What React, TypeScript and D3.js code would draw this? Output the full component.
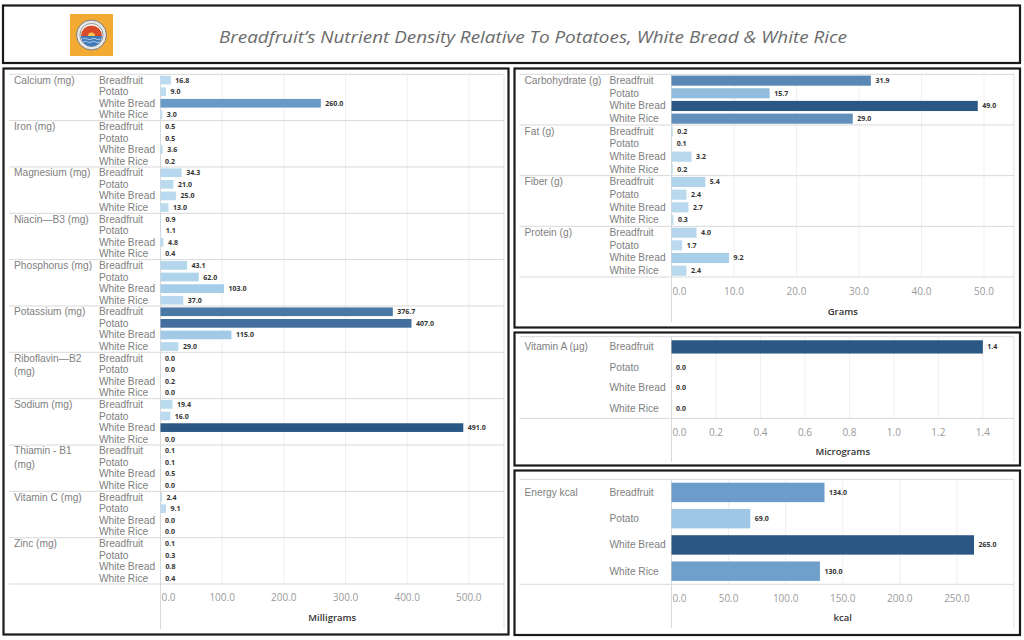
import * as d3 from "d3";

// categories
const foods = ["Breadfruit", "Potato", "White Bread", "White Rice"];

// milligram panel
const mgNutrients = [
  "Calcium (mg)",
  "Iron (mg)",
  "Magnesium (mg)",
  "Niacin—B3 (mg)",
  "Phosphorus (mg)",
  "Potassium (mg)",
  "Riboflavin—B2 (mg)",
  "Sodium (mg)",
  "Thiamin - B1 (mg)",
  "Vitamin C (mg)",
  "Zinc (mg)",
];
const calcium = [16.8, 9.0, 260.0, 3.0];
const iron = [0.5, 0.5, 3.6, 0.2];
const magnesium = [34.3, 21.0, 25.0, 13.0];
const niacin = [0.9, 1.1, 4.8, 0.4];
const phosphorus = [43.1, 62.0, 103.0, 37.0];
const potassium = [376.7, 407.0, 115.0, 29.0];
const riboflavin = [0.0, 0.0, 0.2, 0.0];
const sodium = [19.4, 16.0, 491.0, 0.0];
const thiamin = [0.1, 0.1, 0.5, 0.0];
const vitaminC = [2.4, 9.1, 0.0, 0.0];
const zinc = [0.1, 0.3, 0.8, 0.4];
const mgTicks = [0, 100, 200, 300, 400, 500];

// gram panel
const gNutrients = ["Carbohydrate (g)", "Fat (g)", "Fiber (g)", "Protein (g)"];
const carbohydrate = [31.9, 15.7, 49.0, 29.0];
const fat = [0.2, 0.1, 3.2, 0.2];
const fiber = [5.4, 2.4, 2.7, 0.3];
const protein = [4.0, 1.7, 9.2, 2.4];
const gTicks = [0, 10, 20, 30, 40, 50];

// microgram panel
const ugNutrients = ["Vitamin A (µg)"];
const vitaminA = [1.4, 0.0, 0.0, 0.0];
const ugTicks = [0, 0.2, 0.4, 0.6, 0.8, 1.0, 1.2, 1.4];

// energy panel
const kcalNutrients = ["Energy kcal"];
const energy = [134.0, 69.0, 265.0, 130.0];
const kcalTicks = [0, 50, 100, 150, 200, 250];

const FONT = "'Open Sans', sans-serif";
const LABEL_FONT = "'Liberation Sans', Arial, sans-serif";

type Group = { label: string; values: number[] };

type PanelProps = {
  box: { x: number; y: number; w: number; h: number };
  left: number;
  top: number;
  zeroX: number;
  right: number;
  rowsBottom: number;
  tickY: number;
  titleY: number;
  axisBottom: number;
  domainMax: number;
  ticks: number[];
  axisTitle: string;
  groups: Group[];
  pad: number;
};

const color = d3
  .scaleLinear<string>()
  .domain([0, 0.25, 0.5, 1])
  .range(["#bfddf0", "#a0c9e6", "#6d9dca", "#2b5785"])
  .interpolate(d3.interpolateRgb);

function wrapLabel(s: string) {
  if (s.length <= 16) return [s];
  const i = s.lastIndexOf(" ");
  return [s.slice(0, i), s.slice(i + 1)];
}

function Panel(p: PanelProps) {
  const x = d3.scaleLinear().domain([0, p.domainMax]).range([p.zeroX, p.right]);
  const gy = d3
    .scaleBand()
    .domain(p.groups.map((g) => g.label))
    .range([p.top, p.rowsBottom]);
  const ry = d3
    .scaleBand()
    .domain(foods)
    .range([0, gy.bandwidth()])
    .paddingInner(p.pad)
    .paddingOuter(p.pad / 2);
  const maxVal = d3.max(p.groups.flatMap((g) => g.values)) || 1;

  return (
    <g>
      <rect
        x={p.box.x}
        y={p.box.y}
        width={p.box.w}
        height={p.box.h}
        fill="#fff"
        stroke="#1a1a1a"
        strokeWidth={2.2}
      />
      {/* grid */}
      {p.ticks.slice(1).map((t) => (
        <line
          key={"g" + t}
          x1={x(t)}
          x2={x(t)}
          y1={p.top}
          y2={p.rowsBottom}
          stroke="#efefef"
        />
      ))}
      <line x1={p.zeroX} x2={p.zeroX} y1={p.top} y2={p.axisBottom} stroke="#d9d9d9" />
      <line x1={p.right} x2={p.right} y1={p.top} y2={p.axisBottom} stroke="#e3e3e3" />
      {p.groups.map((g) => (
        <line
          key={"s" + g.label}
          x1={p.left}
          x2={p.right}
          y1={gy(g.label)!}
          y2={gy(g.label)!}
          stroke="#d9d9d9"
        />
      ))}
      <line x1={p.left} x2={p.right} y1={p.rowsBottom} y2={p.rowsBottom} stroke="#d9d9d9" />

      {p.groups.map((g) => {
        const g0 = gy(g.label)!;
        const cy0 = g0 + ry(foods[0])! + ry.bandwidth() / 2;
        return (
          <g key={g.label}>
            {wrapLabel(g.label).map((line, i) => (
              <text
                key={i}
                x={p.left + 5}
                y={cy0 + i * 13.5}
                dominantBaseline="central"
                fontFamily={LABEL_FONT}
                fontSize={10.2}
                fill="#808080"
              >
                {line}
              </text>
            ))}
            {foods.map((f, i) => {
              const v = g.values[i];
              const cy = g0 + ry(f)! + ry.bandwidth() / 2;
              return (
                <g key={f}>
                  <text
                    x={p.left + 90}
                    y={cy}
                    dominantBaseline="central"
                    fontFamily={LABEL_FONT}
                    fontSize={10.2}
                    fill="#808080"
                  >
                    {f}
                  </text>
                  <rect
                    x={x(0)}
                    y={g0 + ry(f)!}
                    width={Math.max(0, x(v) - x(0))}
                    height={ry.bandwidth()}
                    fill={color(v / maxVal)}
                  />
                  <text
                    x={x(v) + 4.5}
                    y={cy}
                    dominantBaseline="central"
                    fontSize={7}
                    fontWeight={700}
                    fill="#333"
                  >
                    {v.toFixed(1)}
                  </text>
                </g>
              );
            })}
          </g>
        );
      })}

      {/* axis */}
      {p.ticks.map((t, i) => (
        <text
          key={"t" + t}
          x={i === 0 ? x(t) + 1 : x(t)}
          y={p.tickY}
          textAnchor={i === 0 ? "start" : "middle"}
          dominantBaseline="central"
          fontSize={10}
          fill="#9a9a9a"
        >
          {t.toFixed(1)}
        </text>
      ))}
      <text
        x={(p.zeroX + p.right) / 2}
        y={p.titleY}
        textAnchor="middle"
        dominantBaseline="central"
        fontSize={9.5}
        fontWeight={600}
        fill="#333"
      >
        {p.axisTitle}
      </text>
    </g>
  );
}

function Logo() {
  const cx = 91.5;
  const cy = 35;
  const top = d3.arc()({ innerRadius: 0, outerRadius: 10.5, startAngle: -Math.PI / 2, endAngle: Math.PI / 2 })!;
  const bottom = d3.arc()({ innerRadius: 0, outerRadius: 10.5, startAngle: Math.PI / 2, endAngle: (3 * Math.PI) / 2 })!;
  const sun = d3.arc()({ innerRadius: 0, outerRadius: 3.5, startAngle: -Math.PI / 2, endAngle: Math.PI / 2 })!;
  return (
    <g>
      <rect x={70} y={14} width={43} height={42} fill="#f3aa32" />
      <circle cx={cx} cy={cy} r={15} fill="#e6e6e6" stroke="#7a7a7a" strokeWidth={1} />
      <circle cx={cx} cy={cy} r={11.5} fill="#fff" stroke="#7a7a7a" strokeWidth={0.8} />
      <g transform={`translate(${cx},${cy + 1})`}>
        <path d={top} fill="#d84a2a" />
        <path d={bottom} fill="#3f79b8" />
        <path d={sun} fill="#f7c64a" />
        <path d="M-9,3 q2.2,-1.5 4.5,0 t4.5,0 t4.5,0 t4.5,0" fill="none" stroke="#cfe3f5" strokeWidth={0.8} />
        <path d="M-8,6 q2,-1.5 4,0 t4,0 t4,0 t4,0" fill="none" stroke="#cfe3f5" strokeWidth={0.8} />
      </g>
    </g>
  );
}

export default function App() {
  const mgGroups: Group[] = [
    calcium, iron, magnesium, niacin, phosphorus, potassium,
    riboflavin, sodium, thiamin, vitaminC, zinc,
  ].map((values, i) => ({ label: mgNutrients[i], values }));
  const gGroups: Group[] = [carbohydrate, fat, fiber, protein].map((values, i) => ({
    label: gNutrients[i],
    values,
  }));
  const ugGroups: Group[] = [{ label: ugNutrients[0], values: vitaminA }];
  const kcalGroups: Group[] = [{ label: kcalNutrients[0], values: energy }];

  return (
    <div style={{ position: "absolute", left: 0, top: 0 }}>
      <svg width={1024} height={640} fontFamily={FONT} style={{ display: "block", background: "#fff" }}>
        <rect x={3} y={5.5} width={1017} height={57.5} fill="#fff" stroke="#1a1a1a" strokeWidth={2.2} />
        <Logo />
        <text
          x={533}
          y={36}
          textAnchor="middle"
          dominantBaseline="central"
          fontSize={17}
          fontStyle="italic"
          fill="#6b6b6b"
          textLength={628}
          lengthAdjust="spacingAndGlyphs"
        >
          Breadfruit’s Nutrient Density Relative To Potatoes, White Bread &amp; White Rice
        </text>

        <Panel
          box={{ x: 3.5, y: 68.5, w: 505, h: 566 }}
          left={9}
          top={74.3}
          zeroX={160.5}
          right={504}
          rowsBottom={584}
          tickY={597}
          titleY={617}
          axisBottom={629}
          domainMax={557}
          ticks={mgTicks}
          axisTitle="Milligrams"
          groups={mgGroups}
          pad={0.25}
        />
        <Panel
          box={{ x: 514.5, y: 68.5, w: 505.5, h: 259 }}
          left={519.5}
          top={74.3}
          zeroX={671.5}
          right={1014}
          rowsBottom={277}
          tickY={291}
          titleY={311}
          axisBottom={322}
          domainMax={54.8}
          ticks={gTicks}
          axisTitle="Grams"
          groups={gGroups}
          pad={0.2}
        />
        <Panel
          box={{ x: 514.5, y: 332.5, w: 505.5, h: 133 }}
          left={519.5}
          top={336.7}
          zeroX={671.5}
          right={1014}
          rowsBottom={418.3}
          tickY={432}
          titleY={451}
          axisBottom={462}
          domainMax={1.54}
          ticks={ugTicks}
          axisTitle="Micrograms"
          groups={ugGroups}
          pad={0.35}
        />
        <Panel
          box={{ x: 514.5, y: 470.5, w: 505.5, h: 164.5 }}
          left={519.5}
          top={479.3}
          zeroX={671.5}
          right={1014}
          rowsBottom={584.3}
          tickY={598}
          titleY={617}
          axisBottom={628}
          domainMax={300}
          ticks={kcalTicks}
          axisTitle="kcal"
          groups={kcalGroups}
          pad={0.26}
        />
      </svg>
    </div>
  );
}
